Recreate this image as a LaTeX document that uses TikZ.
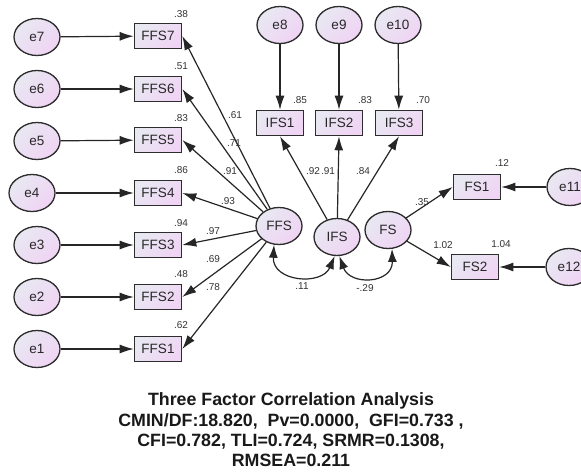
\documentclass[tikz,border=0pt]{standalone}
\usepackage{fontspec}
\setmainfont{Liberation Sans}
\usetikzlibrary{arrows.meta,shapes.geometric}
\definecolor{cA}{RGB}{232,232,242}
\definecolor{cB}{RGB}{240,212,244}
\definecolor{edgec}{RGB}{45,45,45}
\definecolor{txtc}{RGB}{40,40,40}
\begin{document}
\begin{tikzpicture}[x=1pt,y=-1pt,
  lat/.style={ellipse, draw=edgec, line width=1.3pt, minimum width=46pt, minimum height=37pt, inner sep=0pt,
    top color=cA, bottom color=cB, shading angle=45, text=txtc, font=\fontsize{13.5}{15}\selectfont},
  obs/.style={rectangle, draw=edgec, line width=1.6pt, minimum width=47pt, minimum height=25pt, inner sep=0pt,
    top color=cA, bottom color=cB, shading angle=45, text=txtc, font=\fontsize{13.5}{15}\selectfont},
  pth/.style={-{Latex[length=14pt,width=9pt]}, line width=1.2pt, draw=black!85},
  cov/.style={{Latex[length=13pt,width=9pt]}-{Latex[length=13pt,width=9pt]}, line width=1.2pt, draw=black!85},
  lbl/.style={font=\fontsize{10}{12}\selectfont, text=black!80, inner sep=0pt}
]
\useasboundingbox (0,0) rectangle (581,476);
\fill[white] (0,0) rectangle (581,476);

% error terms left
\node[lat] (e7) at (37,37) {e7};
\node[lat] (e6) at (37,89) {e6};
\node[lat] (e5) at (37,141) {e5};
\node[lat] (e4) at (32,193) {e4};
\node[lat] (e3) at (37,245) {e3};
\node[lat] (e2) at (37,297) {e2};
\node[lat] (e1) at (37,349) {e1};

% FFS indicators
\node[obs] (FFS7) at (158,36) {FFS7};
\node[obs] (FFS6) at (158,89) {FFS6};
\node[obs] (FFS5) at (158,140) {FFS5};
\node[obs] (FFS4) at (158,193) {FFS4};
\node[obs] (FFS3) at (158,245) {FFS3};
\node[obs] (FFS2) at (158,297) {FFS2};
\node[obs] (FFS1) at (158,349) {FFS1};

% latent factors
\node[lat] (FFS) at (279,226) {FFS};
\node[lat] (IFS) at (337,237) {IFS};
\node[lat] (FS) at (388,230) {FS};

% IFS indicators and errors
\node[lat] (e8) at (280,25) {e8};
\node[lat] (e9) at (339,25) {e9};
\node[lat] (e10) at (398,25) {e10};
\node[obs] (IFS1) at (280,123) {IFS1};
\node[obs] (IFS2) at (339,123) {IFS2};
\node[obs] (IFS3) at (399,123) {IFS3};

% FS indicators and errors
\node[obs] (FS1) at (477,187) {FS1};
\node[obs] (FS2) at (475,267) {FS2};
\node[lat] (e11) at (570,187) {e11};
\node[lat] (e12) at (569,267) {e12};

% error paths
\foreach \i in {1,...,7} {\draw[pth] (e\i) -- (FFS\i);}
\draw[pth] (e8) -- (IFS1);
\draw[pth] (e9) -- (IFS2);
\draw[pth] (e10) -- (IFS3);
\draw[pth] (e11) -- (FS1.east);
\draw[pth] (e12) -- (FS2.east);

% loadings
\foreach \i in {1,...,7} {\draw[pth] (FFS) -- (FFS\i.east);}
\draw[pth] (IFS) -- (IFS1.south);
\draw[pth] (IFS) -- (IFS2.south);
\draw[pth] (IFS) -- (IFS3.south);
\draw[pth] (FS) -- (FS1.west);
\draw[pth] (FS) -- (FS2.west);

% covariances
\draw[cov] (FFS.-105) .. controls (272,282) and (322,286) .. (IFS.-97);
\draw[cov] (IFS.-83) .. controls (350,286) and (393,284) .. (FS.-78);

% labels
\node[lbl] (r7) at (181,14) {.38};
\node[lbl] (r6) at (181,66) {.51};
\node[lbl] (r5) at (181,118) {.83};
\node[lbl] (r4) at (181,170) {.86};
\node[lbl] (r3) at (181,223) {.94};
\node[lbl] (r2) at (181,274) {.48};
\node[lbl] (r1) at (181,325) {.62};
\node[lbl] (l7) at (235,115) {.61};
\node[lbl] (l6) at (234,143) {.71};
\node[lbl] (l5) at (230,171) {.91};
\node[lbl] (l4) at (228,201) {.93};
\node[lbl] (l3) at (213,231) {.97};
\node[lbl] (l2) at (213,259) {.69};
\node[lbl] (l1) at (213,287) {.78};
\node[lbl] (ri1) at (300,100) {.85};
\node[lbl] (ri2) at (365,100) {.83};
\node[lbl] (ri3) at (423,100) {.70};
\node[lbl] (li1) at (313,171) {.92};
\node[lbl] (li2) at (328,171) {.91};
\node[lbl] (li3) at (363,171) {.84};
\node[lbl] (rf1) at (502,163) {.12};
\node[lbl] (rf2) at (501,244) {1.04};
\node[lbl] (lf1) at (422,202) {.35};
\node[lbl] (lf2) at (443,245) {1.02};
\node[lbl] (c1) at (302,286) {.11};
\node[lbl] (c2) at (365,288) {-.29};

% title
\node[font=\bfseries\fontsize{17.8}{20.3}\selectfont, align=center, inner sep=0pt, text=black!90] (title) at (291,430)
  {Three Factor Correlation Analysis\\
   CMIN/DF:18.820,\ \ Pv=0.0000,\ \ GFI=0.733 ,\\
   CFI=0.782, TLI=0.724, SRMR=0.1308,\\
   RMSEA=0.211};
\end{tikzpicture}
\end{document}
